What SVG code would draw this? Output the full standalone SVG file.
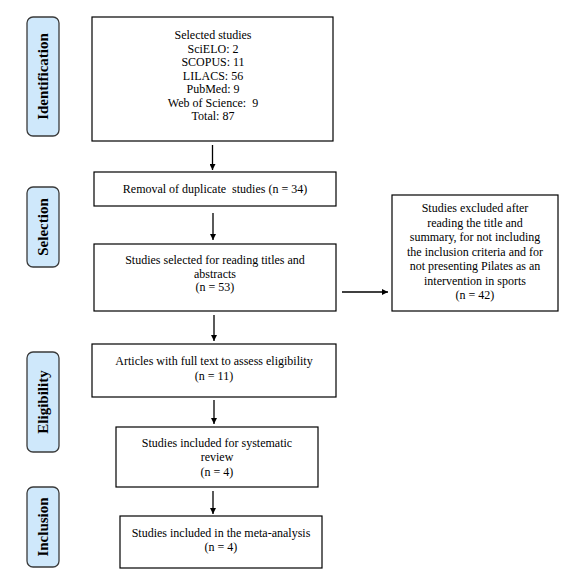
<svg xmlns="http://www.w3.org/2000/svg" width="568" height="584" viewBox="0 0 568 584">
<style>
.bg{fill:#ffffff}
.box{fill:#ffffff;stroke:#000000;stroke-width:1.2}
.lab{fill:#cfe8fb;stroke:#3a3a3a;stroke-width:1.3}
.t{font-family:"Liberation Serif","Times New Roman",serif;font-size:12px;fill:#000;text-anchor:middle}
.lt{font-family:"Liberation Serif","Times New Roman",serif;font-size:15px;font-weight:bold;fill:#000;text-anchor:middle}
.con{stroke:#000;stroke-width:1.3;fill:none;marker-end:url(#ah)}
</style>
<defs>
<marker id="ah" viewBox="0 0 10 10" refX="10" refY="5" markerWidth="6" markerHeight="6" markerUnits="userSpaceOnUse" orient="auto">
<path d="M0,0 L10,5 L0,10 z" fill="#000"/>
</marker>
</defs>
<rect class="bg" x="0" y="0" width="568" height="584"/>

<g id="label-identification">
<rect class="lab" x="27" y="17" width="32" height="119" rx="6"/>
<text class="lt" transform="translate(48,76.5) rotate(-90)">Identification</text>
</g>
<g id="label-selection">
<rect class="lab" x="27" y="187" width="32" height="80" rx="6"/>
<text class="lt" transform="translate(48,227) rotate(-90)">Selection</text>
</g>
<g id="label-eligibility">
<rect class="lab" x="27" y="352" width="32" height="100" rx="6"/>
<text class="lt" transform="translate(48,402) rotate(-90)">Eligibility</text>
</g>
<g id="label-inclusion">
<rect class="lab" x="27" y="487" width="32" height="80" rx="6"/>
<text class="lt" transform="translate(48,527) rotate(-90)">Inclusion</text>
</g>

<g id="n-selected">
<rect class="box" x="92" y="17" width="241" height="124"/>
<text class="t" x="213" y="39">Selected studies</text>
<text class="t" x="213" y="52.5">SciELO: 2</text>
<text class="t" x="213" y="66">SCOPUS: 11</text>
<text class="t" x="213" y="79.5">LILACS: 56</text>
<text class="t" x="213" y="93">PubMed: 9</text>
<text class="t" x="213" y="106.5" xml:space="preserve">Web of Science:  9</text>
<text class="t" x="213" y="120">Total: 87</text>
</g>

<g id="n-removal">
<rect class="box" x="94" y="172" width="242" height="34"/>
<text class="t" x="215" y="193" xml:space="preserve">Removal of duplicate  studies (n = 34)</text>
</g>

<g id="n-screened">
<rect class="box" x="94" y="244" width="242" height="67"/>
<text class="t" x="215" y="264">Studies selected for reading titles and</text>
<text class="t" x="215" y="277.5">abstracts</text>
<text class="t" x="215" y="291">(n = 53)</text>
</g>

<g id="n-excluded">
<rect class="box" x="392" y="195" width="166" height="116"/>
<text class="t" x="475" y="212">Studies excluded after</text>
<text class="t" x="475" y="226.5">reading the title and</text>
<text class="t" x="475" y="241">summary, for not including</text>
<text class="t" x="475" y="255.5">the inclusion criteria and for</text>
<text class="t" x="475" y="270">not presenting Pilates as an</text>
<text class="t" x="475" y="284.5">intervention in sports</text>
<text class="t" x="475" y="299">(n = 42)</text>
</g>

<g id="n-eligibility">
<rect class="box" x="92" y="344" width="244" height="53"/>
<text class="t" x="214" y="365">Articles with full text to assess eligibility</text>
<text class="t" x="214" y="380">(n = 11)</text>
</g>

<g id="n-systematic">
<rect class="box" x="116" y="427" width="202" height="60"/>
<text class="t" x="217" y="447">Studies included for systematic</text>
<text class="t" x="217" y="461">review</text>
<text class="t" x="217" y="476">(n = 4)</text>
</g>

<g id="n-meta">
<rect class="box" x="120" y="516" width="202" height="52"/>
<text class="t" x="221" y="537">Studies included in the meta-analysis</text>
<text class="t" x="221" y="551">(n = 4)</text>
</g>

<g id="connectors">
<line class="con" x1="212.5" y1="145" x2="212.5" y2="170"/>
<line class="con" x1="213" y1="213" x2="213" y2="240"/>
<line class="con" x1="342" y1="292" x2="388" y2="292"/>
<line class="con" x1="214" y1="315" x2="214" y2="341"/>
<line class="con" x1="214" y1="400" x2="214" y2="424"/>
<line class="con" x1="213" y1="491" x2="213" y2="514"/>
</g>
</svg>
